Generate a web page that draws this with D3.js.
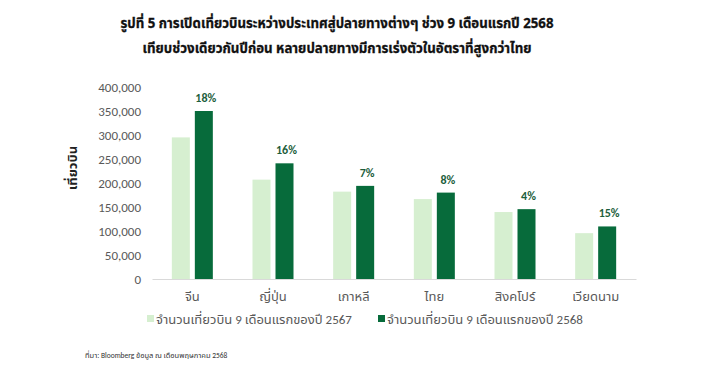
<!DOCTYPE html>
<html><head><meta charset="utf-8">
<script src="https://cdn.jsdelivr.net/npm/d3@7"></script>
<style>
body{margin:0;background:#fff;}
svg{display:block;}
</style></head>
<body><svg id="c" width="705" height="376"></svg>
<script>
const categories = ["จีน","ญี่ปุ่น","เกาหลี","ไทย","สิงคโปร์","เวียดนาม"];
const flights2567 = [295000, 207000, 182000, 166500, 139500, 95500];
const flights2568 = [350000, 241000, 194000, 180000, 145500, 109500];
const growthLabels = ["18%","16%","7%","8%","4%","15%"];
const yTicks = [0,50000,100000,150000,200000,250000,300000,350000,400000];
const seriesNames = ["จำนวนเที่ยวบิน 9 เดือนแรกของปี 2567","จำนวนเที่ยวบิน 9 เดือนแรกของปี 2568"];
const titleLines = ["รูปที่ 5 การเปิดเที่ยวบินระหว่างประเทศสู่ปลายทางต่างๆ ช่วง 9 เดือนแรกปี 2568","เทียบช่วงเดียวกันปีก่อน หลายปลายทางมีการเร่งตัวในอัตราที่สูงกว่าไทย"];
const yTitle = "เที่ยวบิน";
const sourceNote = "ที่มา: Bloomberg ข้อมูล ณ เดือนพฤษภาคม 2568";

const colors = ["#d6efd0","#076b3b"];
const svg = d3.select("#c");
const fontUI = "Calibri, Carlito, 'Noto Sans', 'Noto Sans Thai', 'DejaVu Sans', sans-serif";

const m = {left:152, right:636, top:87, bottom:279};
const x = d3.scaleBand().domain(categories).range([m.left,m.right]).paddingInner(0).paddingOuter(0);
const y = d3.scaleLinear().domain([0,400000]).range([m.bottom,m.top]);

// title
const titleWidths = [433, 389];
svg.append("g").selectAll("text").data(titleLines).join("text")
  .attr("x",337).attr("y",(d,i)=>28+i*25).attr("text-anchor","middle")
  .attr("textLength",(d,i)=>titleWidths[i]).attr("lengthAdjust","spacingAndGlyphs")
  .attr("font-family","Tahoma, 'Noto Sans Thai', 'Noto Sans', sans-serif")
  .attr("font-weight","bold").attr("font-size",14).attr("fill","#111")
  .attr("stroke","#111").attr("stroke-width",0.3).text(d=>d);

// y axis
const yAxis = d3.axisLeft(y).tickValues(yTicks).tickSize(0).tickPadding(0).tickFormat(d3.format(","));
const gy = svg.append("g").attr("transform",`translate(141,0)`).call(yAxis);
gy.select(".domain").remove();
gy.selectAll("text").attr("font-family",fontUI).attr("font-size",13).attr("fill","#595959");

// y title
svg.append("text").attr("transform","translate(77,168) rotate(-90)")
  .attr("text-anchor","middle").attr("font-family",fontUI).attr("font-weight","bold")
  .attr("font-size",13).attr("fill","#222").text(yTitle);

// bars
const bw = 18, gap = 2.5;
const g = svg.append("g");
[flights2567, flights2568].forEach((vals,si)=>{
  g.append("g").selectAll("rect").data(vals).join("rect")
    .attr("x",(d,i)=> x(categories[i]) + x.bandwidth()/2 + (si===0 ? -gap-bw : gap))
    .attr("y",d=>y(d)).attr("width",bw).attr("height",d=>y(0)-y(d))
    .attr("fill",colors[si]);
});

// growth labels
g.append("g").selectAll("text").data(growthLabels).join("text")
  .attr("x",(d,i)=> x(categories[i]) + x.bandwidth()/2 + gap + bw/2 + 2)
  .attr("y",(d,i)=> y(flights2568[i]) - 9)
  .attr("text-anchor","middle").attr("font-family",fontUI).attr("font-weight","bold")
  .attr("font-size",12).attr("fill","#1d5e3c").text(d=>d);

// x axis
const xAxis = d3.axisBottom(x).tickSize(0).tickPadding(13);
const gx = svg.append("g").attr("transform",`translate(0,${m.bottom})`).call(xAxis);
gx.select(".domain").attr("stroke","#d9d9d9").attr("stroke-width",1);
gx.selectAll("text").attr("font-family",fontUI).attr("font-size",13).attr("fill","#595959");

// legend
const legX = [147, 378];
const lg = svg.append("g");
seriesNames.forEach((n,i)=>{
  lg.append("rect").attr("x",legX[i]).attr("y",315).attr("width",7).attr("height",7).attr("fill",colors[i]);
  lg.append("text").attr("x",legX[i]+9).attr("y",324).attr("font-family",fontUI)
    .attr("font-size",13).attr("fill","#595959").text(n);
});

// source
svg.append("text").attr("x",85).attr("y",358).attr("font-family",fontUI)
  .attr("font-size",7.5).attr("fill","#333").text(sourceNote);
</script></body></html>
